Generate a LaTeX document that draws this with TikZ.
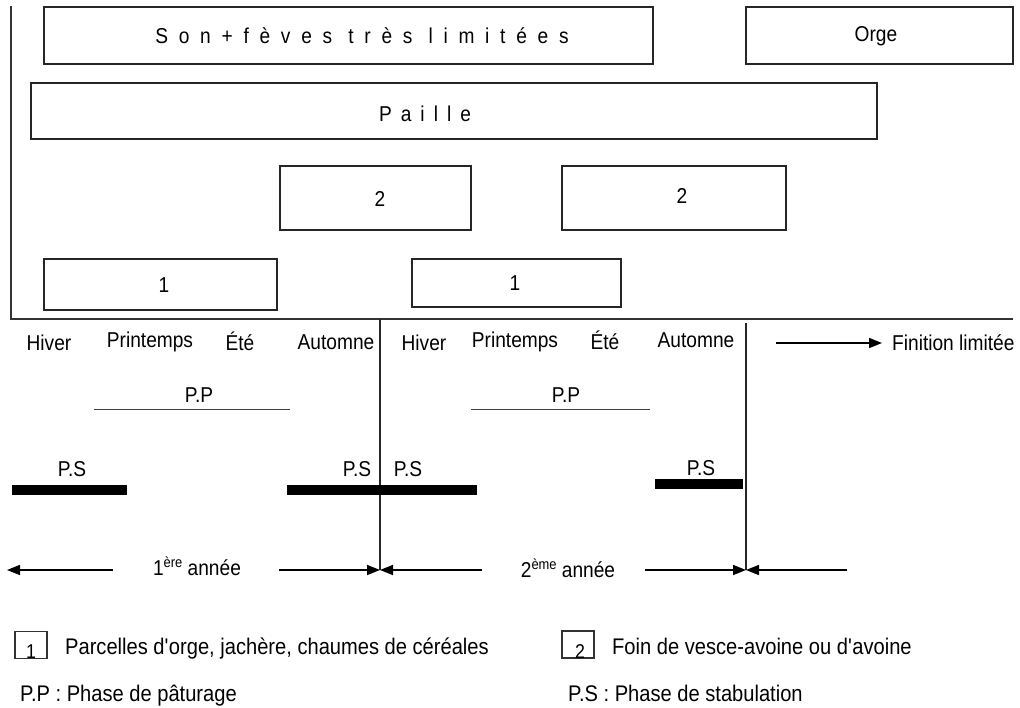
\documentclass[tikz,border=0pt]{standalone}
\usepackage{fontspec}
\setmainfont{Liberation Sans}[FakeStretch=0.89]
\usetikzlibrary{arrows.meta}
\newcommand\spreadtext[2]{{\addfontfeatures{LetterSpace=#1}#2}}
\newcommand\apos{\textquotesingle}
\newcommand\ordsup[1]{\raisebox{7.5pt}{\fontsize{14.5}{15}\selectfont #1}}

\begin{document}
\begin{tikzpicture}[x=1pt,y=-1pt,
  font=\fontsize{21.5}{24}\selectfont,
  box/.style={draw=black!85,line width=1.3pt,rectangle,inner sep=0pt},
  lbl/.style={anchor=base,inner sep=0pt},
  bar/.style={fill=black,rectangle,inner sep=0pt,minimum height=10pt},
  axisline/.style={draw=black!80,line width=2pt},
  yearline/.style={draw=black!85,line width=1.2pt},
  phaseline/.style={draw=black!75,line width=1pt},
  arr/.style={line width=1.6pt,-{Triangle[length=13pt,width=10pt]}},
  legbox/.style={draw=black!80,line width=1.2pt,rectangle,inner sep=0pt,minimum width=32pt,minimum height=27pt},
  legtext/.style={anchor=base west,inner sep=0pt,font=\fontsize{22.6}{24}\selectfont}]

\useasboundingbox (0,0) rectangle (1020,707);

% axes
\coordinate (ytop) at (11,6);
\coordinate (origin) at (11,319);
\coordinate (xend) at (1013,319);
\draw[axisline] (ytop) -- (origin) -- (xend);

% feed boxes
\node[box,minimum width=609pt,minimum height=57pt] (son) at (348.5,35.5) {};
\node[lbl] (sontxt) at (362,43) {\spreadtext{50}{Son+fèves très limitées}};
\node[box,minimum width=267pt,minimum height=57pt] (orge) at (879.5,35.5) {};
\node[lbl] (orgetxt) at (876,41) {Orge};
\node[box,minimum width=846pt,minimum height=56pt] (paille) at (454,111) {};
\node[lbl] (pailletxt) at (425,121) {\spreadtext{42}{Paille}};
\node[box,minimum width=191pt,minimum height=64pt] (foinA) at (375.5,198) {};
\node[lbl] at (380,206) {2};
\node[box,minimum width=224pt,minimum height=64pt] (foinB) at (674,198) {};
\node[lbl] at (682,203) {2};
\node[box,minimum width=233pt,minimum height=51pt] (parcA) at (160.5,284.5) {};
\node[lbl] at (164,292) {1};
\node[box,minimum width=209pt,minimum height=48pt] (parcB) at (516.5,283) {};
\node[lbl] at (515,290) {1};

% seasons
\node[lbl] (h1) at (49,350) {Hiver};
\node[lbl] (p1) at (150,347) {Printemps};
\node[lbl] (e1) at (240,350) {Été};
\node[lbl] (a1) at (336,349) {Automne};
\node[lbl] (h2) at (424,350) {Hiver};
\node[lbl] (p2) at (515,347) {Printemps};
\node[lbl] (e2) at (605,349) {Été};
\node[lbl] (a2) at (696,347) {Automne};

% finishing
\coordinate (finA) at (776,343);
\coordinate (finB) at (882,343);
\node[anchor=base west,inner sep=0pt] (fin) at (892,350) {Finition limitée};
\draw[arr] (finA) -- (finB);

% year separators
\coordinate (sepA) at (380,319);
\coordinate (yA) at (380,570);
\coordinate (sepB) at (746,323);
\coordinate (yB) at (746,570);
\draw[yearline] (sepA) -- (yA);
\draw[yearline] (sepB) -- (yB);

% grazing phases
\node[lbl] (pp1) at (199,402) {P.P};
\coordinate (pp1a) at (94,409);
\coordinate (pp1b) at (290,409);
\draw[phaseline] (pp1a) -- (pp1b);
\node[lbl] (pp2) at (566,402) {P.P};
\coordinate (pp2a) at (471,409);
\coordinate (pp2b) at (650,409);
\draw[phaseline] (pp2a) -- (pp2b);

% housing phases
\node[lbl] (ps1) at (72,476) {P.S};
\node[bar,minimum width=115pt] (bar1) at (69.5,490) {};
\node[lbl] (ps2) at (357,476) {P.S};
\node[lbl] (ps3) at (408,476) {P.S};
\node[bar,minimum width=190pt] (bar2) at (382,490) {};
\node[lbl] (ps4) at (701,475) {P.S};
\node[bar,minimum width=88pt] (bar3) at (699,484) {};

% years
\node[lbl] (year1) at (197,575) {1\ordsup{ère} année};
\node[lbl] (year2) at (568,577) {2\ordsup{ème} année};
\coordinate (l1s) at (113,570);
\coordinate (l1e) at (7,570);
\coordinate (r1s) at (279,570);
\coordinate (l2s) at (482,570);
\coordinate (r2s) at (645,570);
\coordinate (l3s) at (847,570);
\draw[arr] (l1s) -- (l1e);
\draw[arr] (r1s) -- (yA);
\draw[arr] (l2s) -- (yA);
\draw[arr] (r2s) -- (yB);
\draw[arr] (l3s) -- (yB);

% legend
\node[legbox] (k1) at (31,645) {};
\node[anchor=base,inner sep=0pt] at (31,658) {\fontsize{20}{22}\selectfont 1};
\node[legtext] (k1t) at (65,654) {Parcelles d\apos orge, jachère, chaumes de céréales};
\node[legbox] (k2) at (578,644.5) {};
\node[anchor=base,inner sep=0pt] at (580,658) {\fontsize{20}{22}\selectfont 2};
\node[legtext] (k2t) at (612,654) {Foin de vesce-avoine ou d\apos avoine};
\node[legtext] (kpp) at (20,701) {P.P : Phase de pâturage};
\node[legtext] (kps) at (568,701) {P.S : Phase de stabulation};
\end{tikzpicture}
\end{document}
